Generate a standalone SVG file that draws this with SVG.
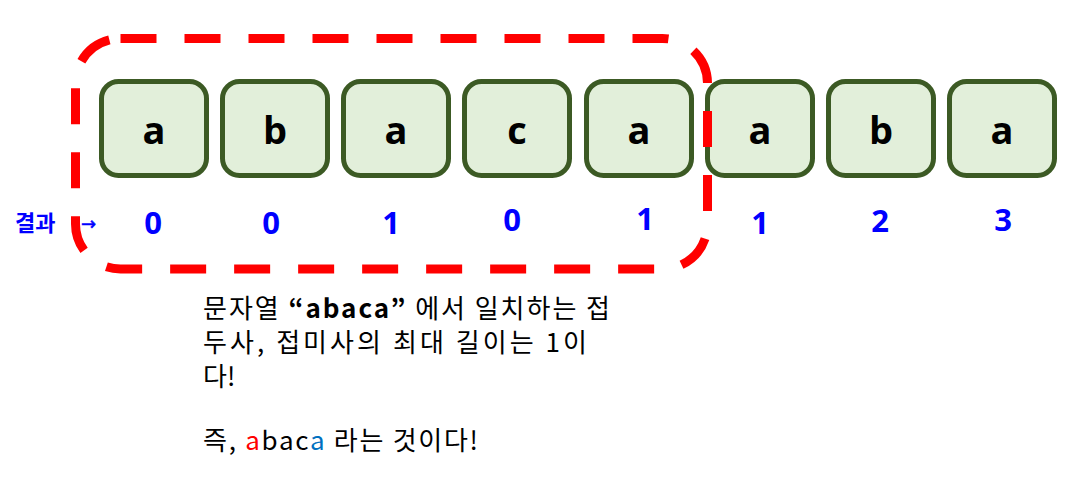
<svg xmlns="http://www.w3.org/2000/svg" width="1075" height="477" viewBox="0 0 1075 477">
<style>
.box{fill:#e2efda;stroke:#3c5a24;stroke-width:5}
.ch{font-family:"Open Sans","Noto Sans",sans-serif;font-weight:bold;font-size:38px;fill:#000;text-anchor:middle}
.num{font-family:"Open Sans","Noto Sans",sans-serif;font-weight:bold;font-size:31px;fill:#0000ff;text-anchor:middle}
.lbl{font-family:"Noto Sans CJK KR",sans-serif;font-weight:bold;font-size:22px;fill:#0000ff}
.txt{font-family:"Noto Sans CJK KR",sans-serif;font-size:26px;fill:#000}
</style>
<rect width="1075" height="477" fill="#fff"/>
<g id="nodes">
<g id="n0"><rect class="box" x="101.5" y="81.5" width="105" height="94" rx="17"/><text class="ch" x="154" y="144">a</text></g>
<g id="n1"><rect class="box" x="222.5" y="81.5" width="105" height="94" rx="17"/><text class="ch" x="275" y="144">b</text></g>
<g id="n2"><rect class="box" x="343.5" y="81.5" width="105" height="94" rx="17"/><text class="ch" x="396" y="144">a</text></g>
<g id="n3"><rect class="box" x="464.5" y="81.5" width="105" height="94" rx="17"/><text class="ch" x="517" y="144">c</text></g>
<g id="n4"><rect class="box" x="586.5" y="81.5" width="105" height="94" rx="17"/><text class="ch" x="639" y="144">a</text></g>
<g id="n5"><rect class="box" x="707.5" y="81.5" width="105" height="94" rx="17"/><text class="ch" x="760" y="144">a</text></g>
<g id="n6"><rect class="box" x="828.5" y="81.5" width="105" height="94" rx="17"/><text class="ch" x="881" y="144">b</text></g>
<g id="n7"><rect class="box" x="949.5" y="81.5" width="105" height="94" rx="17"/><text class="ch" x="1002" y="144">a</text></g>
</g>
<g id="connectors">
<rect x="75.5" y="38.5" width="632" height="230.5" rx="45" fill="none" stroke="#ff0000" stroke-width="9" stroke-dasharray="36 28"/>
</g>
<g id="results">
<text class="lbl" x="15" y="231">결과</text>
<text x="81" y="230" style="font-family:'DejaVu Sans',sans-serif;font-size:18px;fill:#0000ff;stroke:#0000ff;stroke-width:0.5">→</text>
<text class="num" x="153" y="234">0</text>
<text class="num" x="271" y="234">0</text>
<text class="num" x="391" y="234">1</text>
<text class="num" x="512" y="231">0</text>
<text class="num" x="645" y="230">1</text>
<text class="num" x="760" y="234">1</text>
<text class="num" x="880" y="232">2</text>
<text class="num" x="1003" y="231">3</text>
</g>
<g id="note">
<text class="txt" x="203" y="318" textLength="407" lengthAdjust="spacing">문자열 <tspan font-weight="bold">“abaca”</tspan> 에서 일치하는 접</text>
<text class="txt" x="203" y="352" textLength="384" lengthAdjust="spacing">두사, 접미사의 최대 길이는 1이</text>
<text class="txt" x="203" y="386">다!</text>
<text class="txt" x="203" y="450" textLength="275" lengthAdjust="spacing">즉, <tspan fill="#ff0000">a</tspan>bac<tspan fill="#0070c0">a</tspan> 라는 것이다!</text>
</g>
</svg>
